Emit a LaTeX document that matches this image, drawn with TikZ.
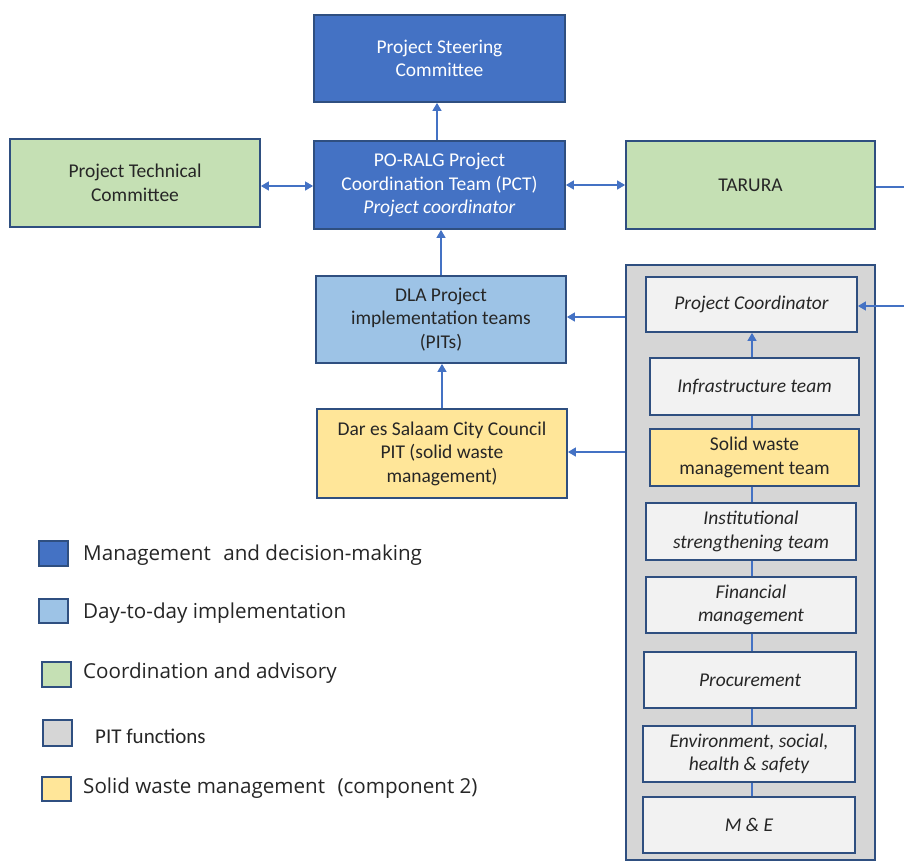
\documentclass[tikz,border=0pt]{standalone}
\usepackage{fontspec}
\setmainfont{Carlito}
\newfontfamily\legfont{Open Sans}
\usetikzlibrary{arrows.meta}
\definecolor{dblue}{HTML}{4472C4}
\definecolor{lblue}{HTML}{9DC3E6}
\definecolor{lgreen}{HTML}{C5E0B4}
\definecolor{lyellow}{HTML}{FFE699}
\definecolor{pgrey}{HTML}{D6D6D6}
\definecolor{boxwhite}{HTML}{F2F2F2}
\definecolor{bord}{HTML}{2F4F80}
\definecolor{arrc}{HTML}{4472C4}
\definecolor{txt}{HTML}{262626}
\begin{document}
\begin{tikzpicture}[x=1pt,y=-1pt,
  box/.style={draw=bord, line width=1.8pt, rectangle, inner sep=2pt, align=center,
    text=txt, font=\fontsize{19.5}{23.5}\selectfont},
  mgmt/.style={box, fill=dblue, text=white},
  impl/.style={box, fill=lblue},
  coord/.style={box, fill=lgreen},
  swm/.style={box, fill=lyellow},
  func/.style={box, fill=boxwhite, font=\fontsize{19.5}{23.5}\selectfont\itshape},
  panel/.style={draw=bord, line width=1.8pt, fill=pgrey, rectangle, inner sep=0pt},
  arr/.style={draw=arrc, line width=1.3pt, -{Triangle[length=8pt,width=9pt]}},
  darr/.style={draw=arrc, line width=1.3pt, {Triangle[length=8pt,width=9pt]}-{Triangle[length=8pt,width=9pt]}},
  link/.style={draw=arrc, line width=1.3pt},
  legsq/.style={draw=bord, line width=1.8pt, rectangle, inner sep=0pt},
  legtxt/.style={anchor=west, inner sep=0pt, text=txt, font=\legfont\fontsize{20.6}{24}\selectfont},
]
\fill[white] (0,0) rectangle (904,865);
\useasboundingbox (0,0) rectangle (904,865);

% top structure
\node[mgmt, minimum width=251, minimum height=87] (psc) at (439.5,58.5) {Project Steering\\Committee};
\node[mgmt, minimum width=251, minimum height=88] (pct) at (439.5,185) {PO-RALG Project\\Coordination Team (PCT)\\\textit{Project coordinator}};
\node[coord, minimum width=250, minimum height=88] (ptc) at (135,183) {Project Technical\\Committee};
\node[coord, minimum width=249, minimum height=88] (tarura) at (750.5,185) {TARURA};
\node[impl, minimum width=250, minimum height=87] (dla) at (441,319.5) {DLA Project\\implementation teams\\(PITs)};
\node[swm, minimum width=250, minimum height=89] (dcc) at (442,453.5) {Dar es Salaam City Council\\PIT (solid waste\\management)};

% panel
\node[panel, minimum width=249, minimum height=595] (panel) at (750.5,562.5) {};
\node[func, minimum width=211, minimum height=55] (pc) at (751.5,304.5) {Project Coordinator};
\node[func, minimum width=209, minimum height=57] (infra) at (754.5,386.5) {Infrastructure team};
\node[swm, minimum width=209, minimum height=57] (sw) at (754.5,457.5) {Solid waste\\management team};
\node[func, minimum width=210, minimum height=57] (inst) at (751,531.5) {Institutional\\strengthening team};
\node[func, minimum width=210, minimum height=56] (fin) at (751,605) {Financial\\management};
\node[func, minimum width=212, minimum height=56] (proc) at (750,680) {Procurement};
\node[func, minimum width=212, minimum height=56] (env) at (749,754) {Environment, social,\\health \& safety};
\node[func, minimum width=212, minimum height=56] (me) at (749,825) {M \& E};

% connectors
\draw[arr] (pct.north -| 437,0) -- (psc.south -| 437,0);
\draw[arr] (dla.north) -- (dla.north |- pct.south);
\draw[arr] (dcc.north) -- (dcc.north |- dla.south);
\draw[darr] (ptc.east |- 0,186) -- (pct.west |- 0,186);
\draw[darr] (pct.east) -- (tarura.west);
\coordinate (tr1) at (904,187);
\coordinate (tr2) at (904,306);
\draw[link] (tarura.east |- tr1) -- (tr1);
\draw[arr] (tr2) -- (pc.east |- tr2);
\draw[arr] (panel.west |- 0,317) -- (dla.east |- 0,317);
\draw[arr] (panel.west |- 0,452) -- (dcc.east |- 0,452);
\draw[arr] (infra.north -| 752,0) -- (pc.south -| 752,0);
\draw[link] (infra.south -| 752,0) -- (sw.north -| 752,0);
\draw[link] (sw.south -| 752,0) -- (inst.north -| 752,0);
\draw[link] (inst.south -| 752,0) -- (fin.north -| 752,0);
\draw[link] (fin.south -| 752,0) -- (proc.north -| 752,0);
\draw[link] (proc.south -| 752,0) -- (env.north -| 752,0);
\draw[link] (env.south -| 752,0) -- (me.north -| 752,0);

% legend
\node[legsq, fill=dblue, minimum width=29, minimum height=25] (l1) at (53.5,553.5) {};
\node[legsq, fill=lblue, minimum width=29, minimum height=24] (l2) at (53.5,611) {};
\node[legsq, fill=lgreen, minimum width=29, minimum height=25] (l3) at (56.5,674.5) {};
\node[legsq, fill=pgrey, minimum width=29, minimum height=26] (l4) at (57.5,733) {};
\node[legsq, fill=lyellow, minimum width=29, minimum height=24] (l5) at (56.5,789) {};
\node[legtxt] (t1) at (83,555) {Management\hspace{0.35em} and decision-making};
\node[legtxt] (t2) at (83,613) {Day-to-day implementation};
\node[legtxt] (t3) at (83,673) {Coordination and advisory};
\node[legtxt, font=\fontsize{21}{24}\selectfont] (t4) at (95,736) {PIT functions};
\node[legtxt] (t5) at (83,788) {Solid waste management\hspace{0.35em} (component 2)};
\end{tikzpicture}
\end{document}
